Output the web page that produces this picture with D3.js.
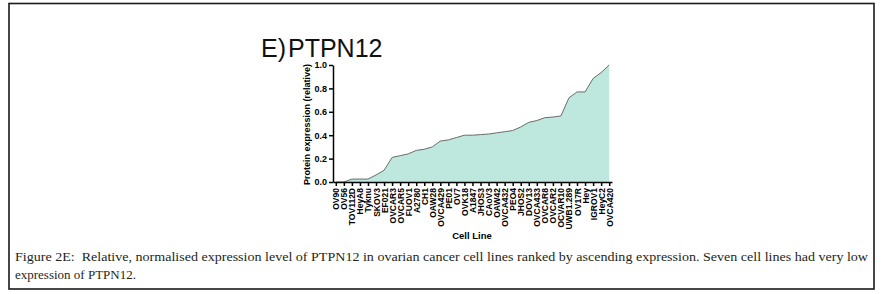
<!DOCTYPE html>
<html>
<head>
<meta charset="utf-8">
<script src="https://cdn.jsdelivr.net/npm/d3@7/dist/d3.min.js"></script>
<style>
    body { margin: 0; background: #fff; }
    #chart { width: 887px; height: 294px; }
    .axis path, .axis line { stroke: #000; stroke-width: 1.5px; }
    .axis text { font-family: "Liberation Sans", Arial, sans-serif; font-weight: bold; fill: #000; }
    .caption { white-space: pre; }
</style>
</head>
<body>
<div id="chart"></div>
<script>
// Cell lines ranked by ascending PTPN12 expression
const cellLines = ["OV90", "OV56", "TOV112D", "HeyA8", "Tyknu", "SKOV3", "EF021", "OVCAR3", "OVCAR5", "FUOV1",
    "A2780", "CH1", "OAW28", "OVCA429", "PE01", "OV7", "OVK18", "A1847", "JHOS3", "CAoV3",
    "OAW42", "OVCA432", "PEO4", "JHOS2", "DOV13", "OVCA433", "OVCAR8", "OVCAR2", "OCVAR10", "UWB1.289",
    "OV17R", "Hey", "IGROV1", "HeyC2", "OVCA420"];

const expression = [0, 0, 0.025, 0.025, 0.025, 0.06, 0.10, 0.21, 0.225, 0.24,
    0.27, 0.28, 0.30, 0.35, 0.36, 0.38, 0.40, 0.40, 0.405, 0.41,
    0.42, 0.43, 0.44, 0.47, 0.51, 0.525, 0.55, 0.555, 0.565, 0.72,
    0.77, 0.77, 0.885, 0.935, 1.0];

const yTicks = [0, 0.2, 0.4, 0.6, 0.8, 1.0];

const captionLines = [
    "Figure 2E:  Relative, normalised expression level of PTPN12 in ovarian cancer cell lines ranked by ascending expression. Seven cell lines had very low",
    "expression of PTPN12."
];

class ExpressionVis {

    constructor(parentElement) {
        this.parentElement = parentElement;
        this.initVis();
    }

    initVis() {
        let vis = this;

        vis.width = 887;
        vis.height = 294;

        vis.svg = d3.select("#" + vis.parentElement).append("svg")
            .attr("width", vis.width)
            .attr("height", vis.height);

        // Frame round the figure
        vis.svg.append("rect")
            .attr("x", 9)
            .attr("y", 3.5)
            .attr("width", 865)
            .attr("height", 285.5)
            .attr("fill", "none")
            .attr("stroke", "#1a1a1a")
            .attr("stroke-width", 1.6);

        // Plot area
        vis.plot = {left: 333, right: 612, top: 65, bottom: 182};

        vis.x = d3.scalePoint()
            .domain(cellLines)
            .range([vis.plot.left, vis.plot.right])
            .padding(0.35);

        vis.y = d3.scaleLinear()
            .domain([0, 1])
            .range([vis.plot.bottom, vis.plot.top]);

        let data = cellLines.map((d, i) => ({name: d, value: expression[i]}));

        // Area
        vis.area = d3.area()
            .x(d => vis.x(d.name))
            .y0(vis.y(0))
            .y1(d => vis.y(d.value));

        vis.svg.append("path")
            .datum(data)
            .attr("fill", "#bee8dd")
            .attr("d", vis.area);

        vis.line = d3.line()
            .x(d => vis.x(d.name))
            .y(d => vis.y(d.value));

        vis.svg.append("path")
            .datum(data)
            .attr("fill", "none")
            .attr("stroke", "#6b6b6b")
            .attr("stroke-width", 1)
            .attr("d", vis.line);

        // Y axis
        vis.yAxisGroup = vis.svg.append("g")
            .attr("class", "axis y-axis")
            .attr("transform", `translate(${vis.plot.left}, 0)`)
            .call(d3.axisLeft(vis.y).tickValues(yTicks).tickFormat(d3.format(".1f")).tickSize(4).tickSizeOuter(0).tickPadding(2));

        vis.yAxisGroup.selectAll("text").style("font-size", "9px");

        // X axis
        vis.xAxisGroup = vis.svg.append("g")
            .attr("class", "axis x-axis")
            .attr("transform", `translate(0, ${vis.plot.bottom})`)
            .call(d3.axisBottom(vis.x).tickSize(4).tickSizeOuter(0));

        vis.xAxisGroup.selectAll("text")
            .style("font-size", "8.5px")
            .style("text-anchor", "end")
            .attr("transform", "rotate(-90)")
            .attr("x", -6)
            .attr("y", 0)
            .attr("dy", "0.35em");

        // Axis titles
        vis.svg.append("text")
            .attr("transform", `translate(310, ${(vis.plot.top + vis.plot.bottom) / 2 + 1}) rotate(-90)`)
            .attr("text-anchor", "middle")
            .style("font-family", "'Liberation Sans', Arial, sans-serif")
            .style("font-weight", "bold")
            .style("font-size", "9px")
            .text("Protein expression (relative)");

        vis.svg.append("text")
            .attr("x", 472)
            .attr("y", 239)
            .attr("text-anchor", "middle")
            .style("font-family", "'Liberation Sans', Arial, sans-serif")
            .style("font-weight", "bold")
            .style("font-size", "9.5px")
            .text("Cell Line");

        // Panel title
        let title = vis.svg.append("text")
            .attr("x", 261)
            .attr("y", 57)
            .style("font-family", "'Liberation Sans', Arial, sans-serif")
            .style("font-size", "25px")
            .attr("fill", "#111");
        title.append("tspan").text("E)");
        title.append("tspan").attr("x", 288).text("PTPN12");

        // Caption
        vis.svg.selectAll(".caption")
            .data(captionLines)
            .enter().append("text")
            .attr("class", "caption")
            .attr("x", 15)
            .attr("y", (d, i) => 261 + i * 18)
            .attr("textLength", (d, i) => i === 0 ? 853 : null)
            .attr("lengthAdjust", "spacingAndGlyphs")
            .style("font-family", "'Liberation Serif', 'DejaVu Serif', serif")
            .style("font-size", "13px")
            .attr("fill", "#231f20")
            .text(d => d);
    }
}

new ExpressionVis("chart");
</script>
</body>
</html>
